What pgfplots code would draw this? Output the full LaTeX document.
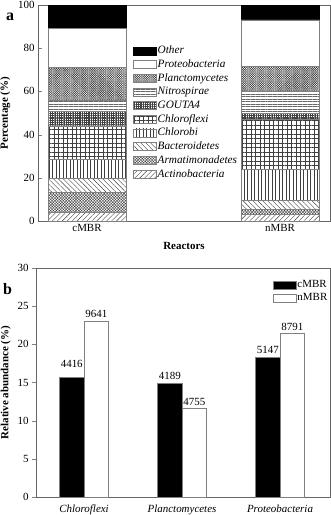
\documentclass[border=0pt]{standalone}
\usepackage{pgfplots}
\pgfplotsset{compat=1.18}
\usepackage{pgfplotstable}
\usepackage{fontspec}
\setmainfont{Liberation Serif}
\usetikzlibrary{patterns.meta}

\pgfplotstableread{
x y lab sh
0 15.7 4416 6
1 14.93 4189 0
2 18.3 5147 0
}\cmbr
\pgfplotstableread{
x y lab sh
0 23.06 9641 0
1 11.57 4755 0
2 21.4 8791 0
}\nmbr

\begin{document}
\begin{tikzpicture}
\path[use as bounding box] (0,0) rectangle (331bp,-515bp);
\node[font=\fontsize{16}{16}\selectfont\bfseries] at (10bp,-16.5bp) {a};
\node[font=\fontsize{16}{16}\selectfont\bfseries] at (7.5bp,-289bp) {b};

\begin{axis}[
  at={(38bp,-221bp)}, anchor=south west, scale only axis,
  width=292bp, height=216bp,
  ybar stacked, bar width=78bp,
  xmin=0.7461, xmax=2.259, ymin=0, ymax=100,
  xtick={1,2}, xticklabels={cMBR,nMBR},
  x tick style={draw=none},
  ytick={0,20,...,100}, ytick pos=left, tick align=inside,
  major tick length=4bp,
  axis line style={gray!80!black},
  ylabel={\textbf{Percentage (\%)}}, xlabel={\textbf{Reactors}},
  label style={font=\fontsize{11}{13}\selectfont},
  ylabel style={yshift=1bp},
  xlabel style={yshift=-4bp},
  tick label style={font=\fontsize{11}{13}\selectfont},
  /pgf/number format/assume math mode=true,
  legend style={at={(0.325,0.82)}, anchor=north west, draw=none, fill=none,
    font=\itshape\fontsize{11.3}{13}\selectfont, row sep=0.3bp, inner sep=0pt,
    nodes={inner sep=1.2bp, text height=8.5bp, text depth=2.5bp},
    cells={anchor=west}},
  reverse legend,
  legend image code/.code={\draw[#1] (0bp,-4bp) rectangle (23bp,4bp);},
]
\addplot[draw=gray, pattern={Lines[angle=45,distance=3.5pt,line width=0.4pt]}, pattern color=black!75] coordinates {(1,4.0) (2,3.0)};
\addlegendentry{Actinobacteria}
\addplot[draw=gray, pattern={Hatch[angle=45,distance=2pt,line width=0.4pt]}, pattern color=black!75] coordinates {(1,9.2) (2,2.5)};
\addlegendentry{Armatimonadetes}
\addplot[draw=gray, pattern={Lines[angle=-45,distance=3.5pt,line width=0.4pt]}, pattern color=black!75] coordinates {(1,6.4) (2,4.0)};
\addlegendentry{Bacteroidetes}
\addplot[draw=gray, pattern={Lines[angle=90,distance=3.5pt,line width=0.4pt]}, pattern color=black!75] coordinates {(1,8.8) (2,14.3)};
\addlegendentry{Chlorobi}
\addplot[draw=gray, pattern={Hatch[angle=0,distance=4.5pt,line width=0.4pt]}, pattern color=black!75] coordinates {(1,15.7) (2,23.1)};
\addlegendentry{Chloroflexi}
\addplot[draw=gray, pattern={Hatch[angle=0,distance=1.8pt,line width=0.4pt]}, pattern color=black!75] coordinates {(1,6.8) (2,2.8)};
\addlegendentry{GOUTA4}
\addplot[draw=gray, pattern={Lines[angle=0,distance=2.5pt,line width=0.4pt]}, pattern color=black!60] coordinates {(1,5.2) (2,10.4)};
\addlegendentry{Nitrospirae}
\addplot[draw=gray, pattern={Hatch[angle=45,distance=1.6pt,line width=0.4pt]}, pattern color=black!75] coordinates {(1,14.9) (2,11.6)};
\addlegendentry{Planctomycetes}
\addplot[draw=gray, fill=white] coordinates {(1,18.3) (2,21.4)};
\addlegendentry{Proteobacteria}
\addplot[draw=black, fill=black] coordinates {(1,10.7) (2,6.9)};
\addlegendentry{Other}
\end{axis}

\begin{axis}[
  at={(36bp,-497bp)}, anchor=south west, scale only axis,
  width=294bp, height=229bp,
  ybar=0pt, bar width=24.5bp,
  xmin=-0.49, xmax=2.51, ymin=0, ymax=30,
  xtick={0,1,2},
  xticklabels={\textit{Chloroflexi},\textit{Planctomycetes},\textit{Proteobacteria}},
  x tick style={draw=none},
  ytick={0,5,...,30}, ytick pos=left, tick align=outside,
  major tick length=4bp,
  axis line style={gray!80!black},
  ylabel={\textbf{Relative abundance (\%)}},
  label style={font=\fontsize{11}{13}\selectfont},
  tick label style={font=\fontsize{11}{13}\selectfont},
  /pgf/number format/assume math mode=true,
  nodes near coords, point meta=explicit symbolic,
  visualization depends on={\thisrow{sh} \as \myshift},
  nodes near coords style={font=\fontsize{11}{13}\selectfont, anchor=south, yshift=\myshift},
  legend style={at={(0.995,0.956)}, anchor=north east, draw=none, fill=none,
    font=\fontsize{11}{13}\selectfont, row sep=0pt, inner sep=0pt,
    nodes={inner sep=1bp, text height=8.5bp, text depth=2.5bp},
    cells={anchor=west}},
  legend image code/.code={\draw[#1] (0bp,-4bp) rectangle (23bp,4bp);},
]
\addplot[draw=gray, fill=black] table[x=x, y=y, meta=lab] {\cmbr};
\addlegendentry{cMBR}
\addplot[draw=gray, fill=white] table[x=x, y=y, meta=lab] {\nmbr};
\addlegendentry{nMBR}
\end{axis}
\end{tikzpicture}
\end{document}
